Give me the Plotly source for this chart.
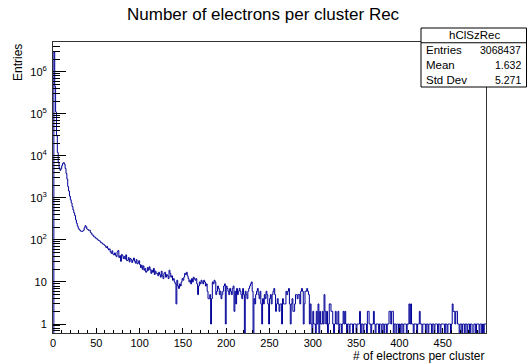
import plotly.graph_objects as go

# ---------------- data ----------------
bin_low = 0
bin_width = 1
n_bins = 500
counts = [
    # 0-19
    0, 2950000, 450000, 110000, 30000, 12000, 7000, 5200, 4500, 4900, 5800, 6600, 6900, 6300, 5000, 3800, 2800, 1850, 1450, 1100,
    # 20-39
    900, 760, 620, 520, 440, 380, 300, 250, 215, 190, 175, 168, 160, 158, 162, 170, 195, 218, 205, 182,
    # 40-59
    176, 168, 171, 152, 143, 131, 129, 118, 117, 110, 109, 101, 99, 95, 93, 86, 85, 80, 79, 75,
    # 60-79
    72, 66, 70, 63, 58, 61, 52, 48, 55, 46, 44, 49, 43, 40, 52, 56, 38, 42, 31, 45,
    # 80-99
    42, 36, 40, 35, 44, 32, 33, 38, 30, 36, 34, 29, 33, 37, 31, 28, 34, 27, 28, 32,
    # 100-119
    26, 22, 25, 20, 24, 19, 21, 17, 18, 22, 19, 23, 20, 16, 19, 17, 21, 15, 18, 16,
    # 120-139
    16, 14, 17, 15, 13, 18, 14, 12, 16, 17, 13, 15, 14, 12, 19, 16, 13, 14, 11, 12,
    # 140-159
    10, 9, 3, 11, 8, 7, 9, 8, 10, 12, 11, 13, 16, 15, 17, 14, 12, 10, 11, 9,
    # 160-179
    12, 10, 13, 12, 11, 12, 9, 5, 8, 10, 9, 11, 10, 9, 11, 10, 8, 9, 6, 4,
    # 180-199
    4, 5, 1, 4, 10, 9, 11, 10, 5, 6, 8, 7, 5, 6, 4, 5, 6, 8, 9, 1,
    # 200-219
    8, 7, 6, 5, 7, 6, 5, 7, 8, 2, 6, 3, 7, 5, 6, 7, 6, 5, 4, 7,
    # 220-239
    5, 0, 6, 5, 4, 6, 7, 8, 9, 10, 6, 0, 4, 3, 5, 6, 7, 5, 4, 6,
    # 240-259
    3, 1, 4, 3, 5, 4, 6, 5, 3, 1, 4, 5, 3, 5, 6, 7, 5, 2, 3, 4,
    # 260-279
    3, 2, 3, 3, 1, 4, 3, 3, 3, 6, 5, 6, 7, 3, 1, 3, 4, 2, 2, 3,
    # 280-299
    5, 5, 4, 5, 5, 3, 6, 7, 6, 1, 3, 6, 6, 7, 6, 5, 1, 3, 1, 0,
    # 300-319
    2, 1, 1, 0, 2, 1, 3, 0, 2, 1, 1, 2, 1, 5, 2, 1, 2, 0, 1, 3,
    # 320-339
    3, 2, 2, 1, 0, 1, 2, 1, 1, 2, 0, 1, 1, 0, 1, 2, 1, 2, 1, 0,
    # 340-359
    1, 1, 0, 1, 1, 1, 0, 1, 1, 1, 0, 1, 1, 1, 2, 0, 1, 1, 0, 1,
    # 360-379
    1, 1, 0, 2, 2, 1, 1, 0, 1, 1, 2, 1, 0, 1, 1, 1, 0, 1, 1, 0,
    # 380-399
    1, 1, 0, 1, 1, 0, 1, 1, 2, 2, 1, 2, 2, 0, 1, 1, 0, 1, 1, 0,
    # 400-419
    1, 0, 1, 1, 0, 1, 1, 1, 0, 1, 1, 3, 1, 3, 1, 1, 0, 1, 1, 1,
    # 420-439
    0, 1, 1, 2, 1, 1, 0, 1, 1, 1, 0, 1, 1, 0, 1, 1, 1, 0, 1, 1,
    # 440-459
    0, 1, 1, 1, 0, 1, 1, 0, 1, 1, 1, 1, 0, 1, 1, 0, 1, 1, 1, 0,
    # 460-479
    1, 3, 2, 2, 1, 2, 2, 1, 1, 0, 1, 1, 0, 1, 1, 0, 1, 1, 0, 1,
    # 480-499
    1, 0, 1, 1, 0, 0, 1, 1, 0, 1, 1, 1, 0, 1, 1, 0, 1, 0, 1, 1,
]
x_tick_vals = [0, 50, 100, 150, 200, 250, 300, 350, 400, 450]
y_tick_vals = [1, 10, 100, 1000, 10000, 100000, 1000000]
y_tick_text = ["1", "10", "10<sup>2</sup>", "10<sup>3</sup>", "10<sup>4</sup>", "10<sup>5</sup>", "10<sup>6</sup>"]

title_text = "Number of electrons per cluster Rec"
x_title = "# of electrons per cluster"
y_title = "Entries"
stats_name = "hClSzRec"
stats_labels = ["Entries", "Mean", "Std Dev"]
stats_values = ["3068437", "1.632", "5.271"]

# ---------------- figure ----------------
FONT = "Liberation Sans, Arial, Helvetica, sans-serif"
W, H = 527, 364
L, R, T, B = 53, 41, 42, 31
PW, PH = W - L - R, H - T - B

edges = [bin_low + i * bin_width for i in range(n_bins + 1)]
# zero bins drawn below the frame (clipped), like ROOT log histograms
ys = [c if c > 0 else 1e-3 for c in counts]
ys = ys + [ys[-1]]

fig = go.Figure()
fig.add_trace(go.Scatter(
    x=edges, y=ys, mode="lines", line=dict(color="#000099", width=1, shape="hv"),
    hoverinfo="skip", showlegend=False,
))

fig.update_layout(
    width=W, height=H,
    margin=dict(l=L, r=R, t=T, b=B, pad=0),
    paper_bgcolor="white", plot_bgcolor="white",
    font=dict(family=FONT, size=12, color="black"),
    showlegend=False,
)
fig.update_xaxes(
    range=[0, 500], showgrid=False, zeroline=False,
    showline=True, linecolor="#333", linewidth=1, mirror=True,
    tickmode="array", tickvals=x_tick_vals,
    ticks="inside", ticklen=5, tickcolor="black", tickwidth=1,
    minor=dict(ticks="inside", ticklen=3, dtick=10, tick0=0, tickcolor="black", showgrid=False),
    tickfont=dict(size=11, family=FONT), ticklabelstandoff=0,
)
fig.update_yaxes(
    type="log", range=[-0.214, 6.706], showgrid=False, zeroline=False,
    showline=True, linecolor="#333", linewidth=1, mirror=True,
    tickmode="array", tickvals=y_tick_vals, ticktext=y_tick_text,
    ticks="inside", ticklen=13, tickcolor="black", tickwidth=1,
    minor=dict(ticks="inside", ticklen=7, dtick="D1", tickcolor="black", showgrid=False),
    tickfont=dict(size=11, family=FONT), ticklabelstandoff=3,
)

def px2x(px):
    return (px - L) / PW

def py2y(py):
    return 1 - (py - T) / PH

annotations = [
    dict(text=title_text, x=px2x(263), y=py2y(15), xref="paper", yref="paper",
         showarrow=False, font=dict(size=17, family=FONT), xanchor="center", yanchor="middle"),
    dict(text=x_title, x=px2x(485), y=py2y(364), xref="paper", yref="paper",
         showarrow=False, font=dict(size=12, family=FONT), xanchor="right", yanchor="bottom",
         borderpad=0),
    dict(text=y_title, x=px2x(17.5), y=py2y(42), xref="paper", yref="paper", textangle=-90,
         showarrow=False, font=dict(size=12, family=FONT), xanchor="center", yanchor="top"),
]

# stats box
bx0, bx1, by0, by1 = 421, 527, 28, 87
row_h = (by1 - by0) / 4.0
shapes = [
    dict(type="rect", xref="paper", yref="paper", x0=px2x(bx0), x1=px2x(bx1 - 0.5),
         y0=py2y(by1), y1=py2y(by0), line=dict(color="black", width=1), fillcolor="white", layer="above"),
    dict(type="line", xref="paper", yref="paper", x0=px2x(bx0), x1=px2x(bx1),
         y0=py2y(by0 + row_h), y1=py2y(by0 + row_h), line=dict(color="black", width=1), layer="above"),
]
annotations.append(dict(text=stats_name, x=px2x((bx0 + bx1) / 2), y=py2y(by0 + row_h / 2),
                        xref="paper", yref="paper", showarrow=False,
                        font=dict(size=11.5, family=FONT), xanchor="center", yanchor="middle"))
for i, (lab, val) in enumerate(zip(stats_labels, stats_values)):
    yc = by0 + row_h * (i + 1.5)
    annotations.append(dict(text=lab, x=px2x(bx0 + 3), y=py2y(yc), xref="paper", yref="paper",
                            showarrow=False, font=dict(size=11.5, family=FONT), xanchor="left", yanchor="middle"))
    annotations.append(dict(text=val, x=px2x(bx1 - 4), y=py2y(yc), xref="paper", yref="paper",
                            showarrow=False, font=dict(size=10.5, family=FONT), xanchor="right", yanchor="middle"))

fig.update_layout(annotations=annotations, shapes=shapes)
fig.write_html("out.html")
